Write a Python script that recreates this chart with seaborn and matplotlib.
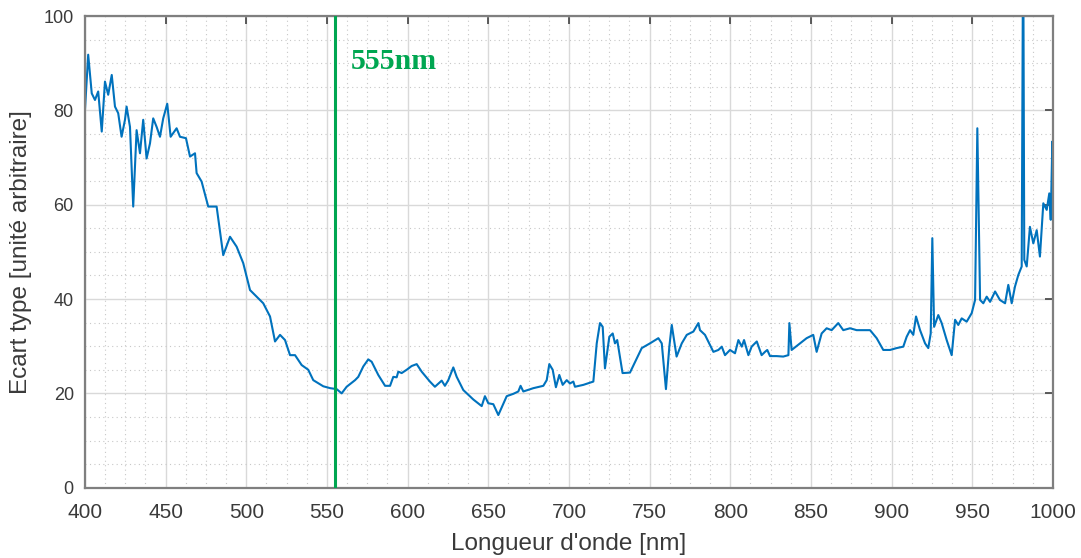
import numpy as np
import pandas as pd
import matplotlib
matplotlib.use("Agg")
import matplotlib.pyplot as plt
from matplotlib.ticker import MultipleLocator
import seaborn as sns

wavelength = [400, 402.0, 404.2, 406.2, 408.2, 410.4, 412.4, 414.4, 416.6, 418.6, 420.6, 422.7, 424.8, 425.8,
              427.9, 429.9, 432.0, 434.1, 436.1, 438.2, 440.3, 442.3, 444.4, 446.5, 448.5, 451.0, 453.1, 456.8,
              458.9, 462.6, 465.1, 468.2, 469.2, 472.3, 476.4, 481.6, 485.7, 489.9, 494.0, 498.1, 502.3, 506.4,
              510.5, 514.7, 517.8, 520.9, 524.0, 527.1, 530.2, 534.3, 538.4, 541.5, 547.7, 552.0, 556.0, 559.1,
              562.2, 567.4, 569.4, 572.5, 575.6, 577.7, 581.8, 586.0, 589.1, 591.1, 593.2, 594.2, 596.3, 599.4,
              602.5, 605.6, 608.7, 613.8, 616.9, 621.1, 623.1, 625.2, 628.3, 630.4, 634.5, 640.7, 645.9, 647.9,
              650.0, 653.1, 656.2, 661.4, 665.5, 668.6, 670.0, 671.7, 677.9, 684.1, 686.2, 687.8, 689.9, 691.9,
              694.0, 696.1, 698.6, 700.6, 702.7, 703.7, 708.9, 715.1, 717.2, 719.2, 720.9, 722.3, 725.0, 727.1,
              728.5, 729.9, 733.2, 737.8, 745.1, 750.2, 755.4, 757.5, 760.1, 762.2, 763.7, 766.7, 769.9, 773.0,
              777.1, 780.2, 781.2, 784.3, 789.5, 792.6, 794.7, 796.7, 799.8, 802.9, 805.0, 807.1, 808.5, 811.2,
              813.2, 816.4, 819.4, 821.5, 822.9, 824.6, 828.7, 832.8, 836.0, 836.6, 838.0, 842.1, 847.3, 851.4,
              853.5, 856.6, 859.7, 862.8, 866.9, 870.0, 874.2, 878.3, 882.4, 886.6, 890.7, 894.8, 899.0, 903.1,
              907.2, 909.3, 911.4, 913.4, 915.1, 917.6, 920.7, 922.7, 924.2, 925.2, 926.3, 928.9, 931.0, 934.1,
              937.2, 939.3, 941.3, 943.4, 946.5, 949.6, 951.7, 953.1, 954.8, 956.8, 958.9, 961.0, 964.1, 967.1,
              970.3, 972.3, 974.4, 976.4, 978.5, 980.6, 981.5, 982.2, 983.7, 985.7, 987.8, 989.9, 991.9, 994.0,
              996.1, 997.7, 998.6, 999.6, 1000]
ecart = [80.1, 91.8, 83.6, 82.2, 84.0, 75.5, 86.1, 83.3, 87.5, 80.8, 79.4, 74.4, 78.0, 80.8,
         76.5, 59.6, 75.8, 70.9, 78.0, 69.8, 73.0, 78.3, 76.5, 74.4, 78.3, 81.4, 74.4, 76.2,
         74.4, 74.1, 70.2, 70.9, 66.7, 64.9, 59.6, 59.6, 49.3, 53.2, 51.1, 47.6, 41.9, 40.5,
         39.1, 36.3, 31.0, 32.4, 31.3, 28.1, 28.1, 26.0, 25.0, 22.8, 21.5, 21.1, 20.9, 20.0,
         21.4, 22.8, 23.5, 25.7, 27.2, 26.7, 23.9, 21.6, 21.6, 23.5, 23.4, 24.6, 24.3, 25.0,
         25.8, 26.2, 24.6, 22.5, 21.4, 22.7, 21.6, 22.8, 25.5, 23.5, 20.7, 18.7, 17.3, 19.4,
         17.9, 17.7, 15.4, 19.4, 19.9, 20.4, 21.6, 20.4, 21.1, 21.6, 22.8, 26.2, 25.0, 21.3,
         23.9, 21.8, 22.8, 22.1, 22.5, 21.4, 21.8, 22.5, 30.6, 34.9, 34.1, 25.3, 32.0, 32.7,
         30.6, 31.3, 24.3, 24.4, 29.6, 30.6, 31.7, 30.6, 20.9, 29.9, 34.5, 27.8, 30.6, 32.4,
         33.1, 34.9, 33.4, 32.4, 28.8, 29.2, 29.9, 28.1, 29.2, 28.5, 31.3, 29.9, 31.3, 28.1,
         29.9, 31.0, 28.1, 28.8, 29.2, 27.9, 27.9, 27.8, 28.1, 34.9, 29.2, 30.3, 31.7, 32.4,
         28.8, 32.7, 33.8, 33.4, 34.9, 33.4, 33.8, 33.4, 33.4, 33.4, 31.7, 29.2, 29.2, 29.6,
         29.9, 32.0, 33.4, 32.4, 36.3, 33.4, 30.6, 29.6, 32.7, 52.9, 34.1, 36.6, 34.9, 31.3,
         28.1, 35.6, 34.5, 35.9, 35.2, 37.0, 39.8, 76.2, 39.8, 39.1, 40.5, 39.4, 41.6, 39.8,
         39.1, 43.0, 39.1, 42.6, 45.1, 46.9, 120.0, 48.3, 46.9, 55.3, 51.8, 54.6, 49.0, 60.3,
         58.9, 62.4, 56.8, 73.4, 58.9]

marker_nm = 555
marker_label = "555nm"
xlabel = "Longueur d'onde [nm]"
ylabel = "Ecart type [unité arbitraire]"

df = pd.DataFrame({"wl": wavelength, "sd": ecart})

sns.set_style("white")
plt.rcParams["font.family"] = ["Liberation Sans", "DejaVu Sans"]

fig = plt.figure(figsize=(10.81, 5.58), dpi=100)
ax = fig.add_axes([0.0786, 0.126, 0.8955, 0.8453])

sns.lineplot(data=df, x="wl", y="sd", ax=ax, color="#0072BD", linewidth=1.5, sort=False)
ax.axvline(marker_nm, color="#00A651", linewidth=2.2, zorder=3)
ax.text(565.0, 88.7, marker_label, color="#00A651", fontsize=21.5, fontweight="bold",
        family=["Liberation Serif", "DejaVu Serif"], va="baseline", ha="left")

ax.set_xlim(400, 1000)
ax.set_ylim(0, 100)
ax.xaxis.set_major_locator(MultipleLocator(50))
ax.xaxis.set_minor_locator(MultipleLocator(12.5))
ax.yaxis.set_major_locator(MultipleLocator(20))
ax.yaxis.set_minor_locator(MultipleLocator(5))

ax.grid(True, which="major", color="#d9d9d9", linewidth=1.0, linestyle="-")
ax.grid(True, which="minor", color="#c8c8c8", linewidth=0.8, linestyle=(0, (1, 3)))
ax.set_axisbelow(True)

for s in ax.spines.values():
    s.set_color("#7f7f7f")
    s.set_linewidth(1.6)
    s.set_visible(True)

ax.tick_params(which="major", direction="in", length=6, width=1.2, color="#404040",
               top=True, right=True, labelcolor="#3a3a3a")
ax.tick_params(axis="x", which="major", labelsize=15, pad=11)
ax.tick_params(axis="y", which="major", labelsize=13, pad=8)
ax.tick_params(which="minor", length=0)

ax.set_xlabel(xlabel, fontsize=17.5, color="#3a3a3a", labelpad=8)
ax.set_ylabel(ylabel, fontsize=17.5, color="#3a3a3a", labelpad=8)

fig.savefig("out.png", dpi=100)
